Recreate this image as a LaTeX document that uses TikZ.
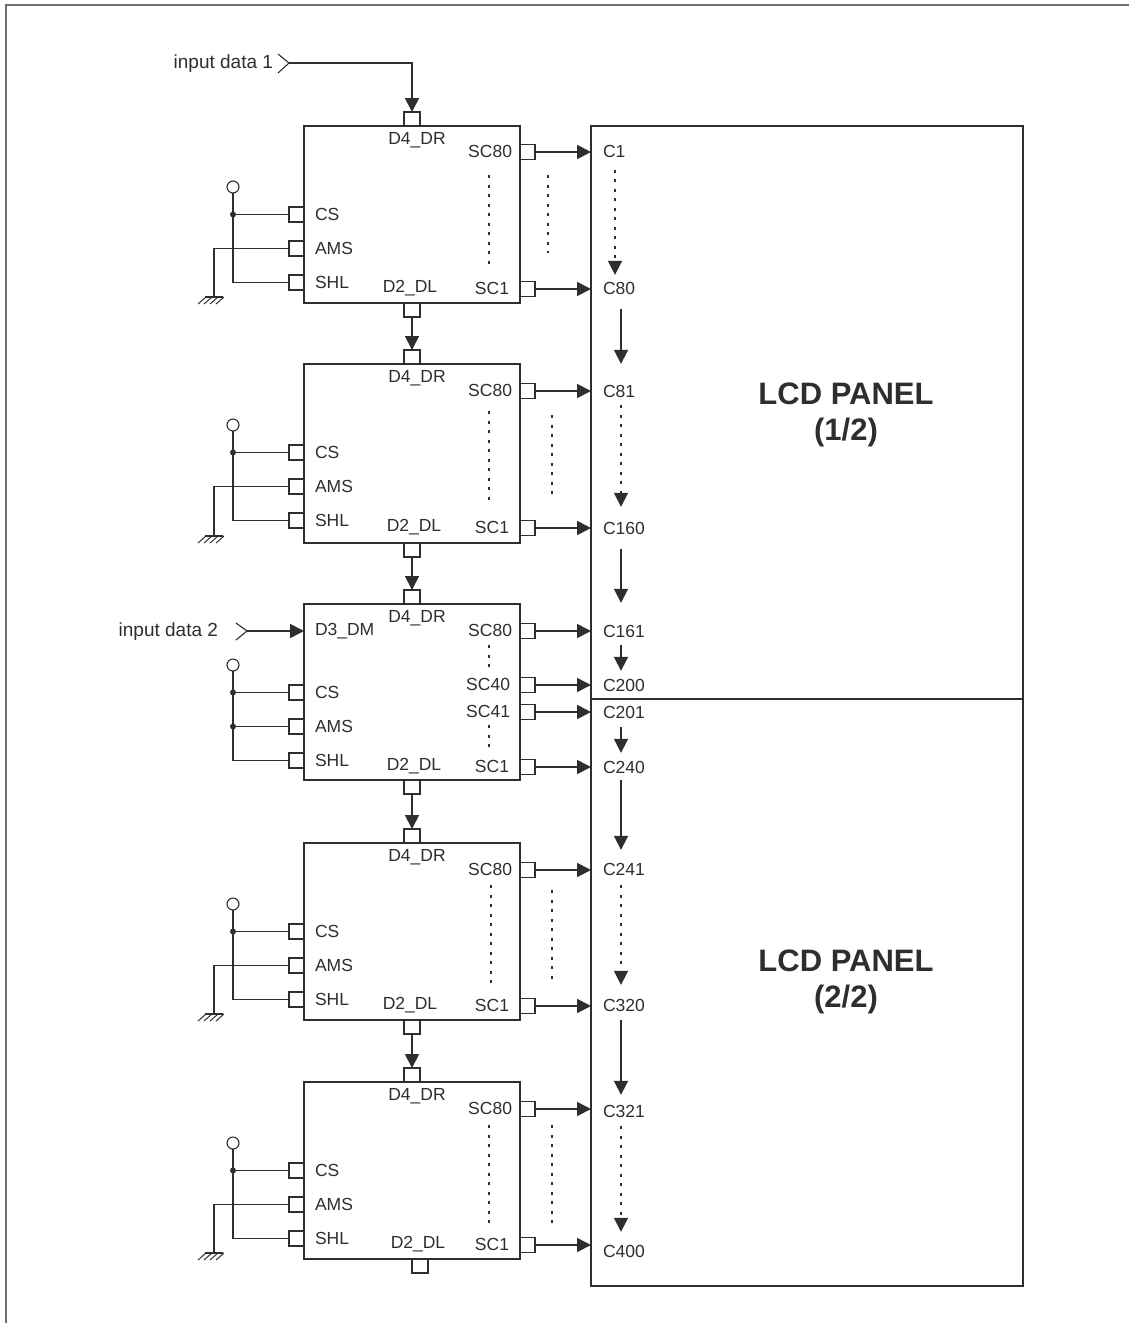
\documentclass[tikz,border=0pt]{standalone}
\usepackage{fontspec}
\setmainfont{Liberation Sans}
\usetikzlibrary{positioning,calc,arrows.meta}
\definecolor{inkgray}{HTML}{2E2E2E}
\definecolor{framegray}{HTML}{707070}
\tikzset{
    wire/.style={draw=inkgray, line width=1.8pt},
    sigarrow/.style={wire, -{Triangle[length=14pt,width=14pt]}},
    dotline/.style={draw=inkgray, line width=1.8pt, dash pattern=on 3pt off 6.5pt},
    chipbox/.style={draw=inkgray, line width=1.8pt, fill=white, anchor=north west, outer sep=0pt, inner sep=0pt, minimum width=216pt},
    panelbox/.style={draw=inkgray, line width=1.6pt, anchor=north west, outer sep=0pt, inner sep=0pt, minimum width=432pt},
    pinbox/.style={draw=inkgray, line width=1.4pt, fill=white, outer sep=0pt, inner sep=0pt, minimum width=15pt, minimum height=15pt},
    vccdot/.style={circle, draw=inkgray, line width=1.1pt, fill=white, inner sep=0pt, minimum size=12pt, outer sep=0pt},
    jdot/.style={circle, fill=inkgray, inner sep=0pt, minimum size=6pt},
    lbl/.style={inner sep=0pt, outer sep=0pt, text=inkgray, font=\fontsize{17.5}{20}\selectfont},
    inlbl/.style={lbl, anchor=east, font=\fontsize{19}{22}\selectfont},
    title/.style={inner sep=0pt, text=inkgray, font=\fontsize{31}{36}\selectfont\bfseries, align=center}
}
\begin{document}
\begin{tikzpicture}[x=1pt,y=-1pt]
            \useasboundingbox (0,0) rectangle (1129,1323);

            % Draw the page frame
            \draw[framegray, line width=2pt] (6,1323) -- (6,5) -- (1129,5);

            % Draw the panel
            \node[panelbox, minimum height=573pt] (panel1) at (591,126) {};
            \node[panelbox, minimum height=587pt] (panel2) at (591,699) {};
            \node[title] (paneltitle1) at (846,415) {LCD PANEL\\(1/2)};
            \node[title] (paneltitle2) at (846,982) {LCD PANEL\\(2/2)};

            % Draw the panel column labels
            \foreach \c/\y in {1/151.5,80/288,81/391,160/528,161/631,200/685,201/712,240/767,241/869,320/1005,321/1111,400/1251}
                \node[lbl, anchor=west] (c\c) at (603,\y) {C\c};

            % Draw the arrows inside the panel
            \foreach \a/\b/\ax/\sa/\sb in {80/81/621/15/21,160/161/621/15/22,161/200/621/8/8,201/240/621/9/8,240/241/621/7/13,320/321/621/9/10}
                \draw[sigarrow, shorten <=\sa pt, shorten >=\sb pt] (c\a.south -| \ax,0) -- (c\b.north -| \ax,0);
            \foreach \a/\b/\ax/\sa/\sb in {1/80/615/12/7,81/160/621/8/15,241/320/621/10/14,321/400/621/9/13}
                \draw[dotline, -{Triangle[length=14pt,width=14pt]}, shorten <=\sa pt, shorten >=\sb pt] (c\a.south -| \ax,0) -- (c\b.north -| \ax,0);

            % Draw the driver chips with their pins
            \foreach \n/\ytop/\ybot/\dlx/\dlb/\pinx/\ysc/\yse in {1/126/303/410/412/412/152/289,2/364/543/414/412/412/391/528,3/604/780/414/412/412/631/767,4/843/1020/410/412/412/870/1006,5/1082/1259/418/420/412/1109/1245} {
                \node[chipbox, minimum height={\ybot-\ytop}] (chip\n) at (304,\ytop) {};
                \node[pinbox, minimum width=16pt, minimum height=14pt, anchor=south] (dr\n) at (\pinx,\ytop) {};
                \node[pinbox, minimum width=16pt, minimum height=14pt, anchor=north] (dl\n) at (\dlb,\ybot) {};
                \node[pinbox, anchor=east] (cs\n) at (304,\ytop+88.5) {};
                \node[pinbox, anchor=east] (ams\n) at (304,\ytop+122.5) {};
                \node[pinbox, anchor=east] (shl\n) at (304,\ytop+156.5) {};
                \node[pinbox, anchor=west] (sca\n) at (520,\ysc) {};
                \node[pinbox, anchor=west] (scb\n) at (520,\yse) {};
                \node[lbl] (drname\n) at (417,\ytop+14) {D4\_DR};
                \node[lbl] (dlname\n) at (\dlx,\yse-0.5) {D2\_DL};
                \node[lbl, anchor=west] (csname\n) at (315,\ytop+88.5) {CS};
                \node[lbl, anchor=west] (amsname\n) at (315,\ytop+122.5) {AMS};
                \node[lbl, anchor=west] (shlname\n) at (315,\ytop+156) {SHL};
                \node[lbl, anchor=east] (scaname\n) at (512,\ysc-0.5) {SC80};
                \node[lbl, anchor=east] (scbname\n) at (509,\yse-0.5) {SC1};
                \draw[sigarrow] (sca\n.east) -- (sca\n.east -| panel1.west);
                \draw[sigarrow] (scb\n.east) -- (scb\n.east -| panel1.west);

                % Draw the supply wiring
                \node[vccdot] (vcc\n) at (233,\ytop+61) {};
                \node[jdot] (csdot\n) at (vcc\n |- cs\n) {};
                \draw[wire] (vcc\n.south) |- (shl\n.west);
                \draw[wire] (csdot\n) -- (cs\n.west);
            }

            % Draw the chain between the chips
            \foreach \a/\b in {1/2,2/3,3/4,4/5}
                \draw[sigarrow] (dl\a.south) -- (dr\b.north);

            % Draw the grounded AMS pins
            \foreach \n/\ygnd in {1/297,2/536,4/1014,5/1253} {
                \coordinate (gnd\n) at (214,\ygnd);
                \draw[wire] (ams\n.west) -| (gnd\n);
                \draw[wire, line width=1.1pt] ($(gnd\n)+(-9,0)$) -- ($(gnd\n)+(9,0)$);
                \foreach \dx in {-8,-2,4,10}
                    \draw[wire, line width=1pt] ($(gnd\n)+(\dx,0)$) -- ++(-8,7);
            }

            % Draw the extra pins of the middle chip
            \node[jdot] (amsdot3) at (vcc3 |- ams3) {};
            \draw[wire] (amsdot3) -- (ams3.west);
            \node[pinbox, anchor=west] (scc3) at (520,685) {};
            \node[pinbox, anchor=west] (scd3) at (520,712) {};
            \node[lbl, anchor=east] (sccname3) at (510,684) {SC40};
            \node[lbl, anchor=east] (scdname3) at (510,711) {SC41};
            \node[lbl, anchor=west] (dmname3) at (315,631) {D3\_DM};
            \draw[sigarrow] (scc3.east) -- (scc3.east -| panel1.west);
            \draw[sigarrow] (scd3.east) -- (scd3.east -| panel1.west);

            % Draw the dots between the SC pins
            \foreach \x/\ya/\yb in {489/175/265,548/175/253,489/411/505,552/415/500,489/645/670,489/725/750,491/885/985,552/890/980,489/1125/1225,552/1125/1225}
                \draw[dotline] (\x,\ya) -- (\x,\yb);

            % Draw the data inputs
            \node[inlbl] (input1) at (273,64) {input data 1};
            \coordinate (tip1) at (289,63);
            \draw[wire, line width=1.1pt] (278,54) -- (tip1) -- (278,73);
            \draw[sigarrow] (tip1) -| (dr1.north);
            \node[inlbl] (input2) at (218,632) {input data 2};
            \coordinate (tip2) at (247,631);
            \draw[wire, line width=1.1pt] (236,623) -- (tip2) -- (236,640);
            \draw[sigarrow] (tip2) -- (tip2 -| chip3.west);
        \end{tikzpicture}
\end{document}
